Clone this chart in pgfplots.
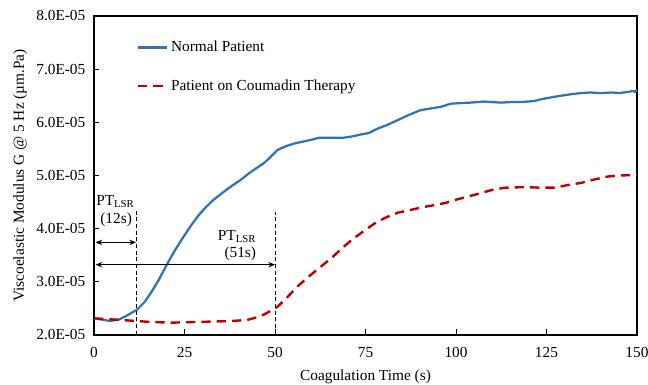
\documentclass[border=0pt]{standalone}
\usepackage{pgfplots}
\pgfplotsset{compat=1.18}
\usepackage{fontspec}
\setmainfont{Liberation Serif}
\usetikzlibrary{arrows.meta,calc}
\definecolor{bluec}{RGB}{46,117,182}
\definecolor{redc}{RGB}{192,0,0}
\begin{document}
\begin{tikzpicture}
\begin{axis}[
  scale only axis,
  width=407pt, height=239pt,
  xmin=0, xmax=150, ymin=2e-5, ymax=8e-5,
  scaled y ticks=false,
  xtick={0,25,50,75,100,125,150},
  ytick={2e-5,3e-5,4e-5,5e-5,6e-5,7e-5,8e-5},
  yticklabels={2.0E-05,3.0E-05,4.0E-05,5.0E-05,6.0E-05,7.0E-05,8.0E-05},
  /pgf/number format/assume math mode=true,
  tick pos=left, tick align=inside,
  major tick length=4pt,
  axis line style={line width=1pt},
  every tick/.style={black, line width=0.6pt},
  tick label style={font=\fontsize{11.5}{13}\selectfont},
  xticklabel style={yshift=-6pt},
  yticklabel style={xshift=-3pt},
  label style={font=\fontsize{11.5}{13}\selectfont},
  xlabel={Coagulation Time (s)},
  ylabel={Viscoelastic Modulus G @ 5 Hz (µm.Pa)},
  xlabel style={yshift=-2pt},
  ylabel style={yshift=0pt},
  legend style={draw=none, fill=none, at={(0.078,0.93)}, anchor=north west,
    font=\fontsize{11.5}{13}\selectfont, row sep=15.5pt, inner sep=0pt,
    legend cell align=left},
  legend image code/.code={\draw[#1] (0pt,0pt) -- (22pt,0pt);},
]
\addplot[bluec, line width=1.7pt, line join=round] coordinates {
(0,2.31e-5)(2,2.29e-5)(4.4,2.26e-5)(7,2.29e-5)(9,2.36e-5)(11.8,2.47e-5)(14,2.62e-5)(16,2.82e-5)(18,3.05e-5)(20.1,3.32e-5)(22,3.55e-5)(24,3.77e-5)(26.6,4.04e-5)(29,4.26e-5)(31,4.41e-5)(33,4.54e-5)(36,4.70e-5)(38,4.80e-5)(40.4,4.91e-5)(43,5.05e-5)(46.9,5.23e-5)(48.5,5.33e-5)(50.7,5.48e-5)(53,5.55e-5)(55.3,5.60e-5)(58,5.64e-5)(60,5.67e-5)(62.2,5.71e-5)(65,5.71e-5)(69,5.71e-5)(71,5.73e-5)(73.7,5.77e-5)(76,5.80e-5)(78.3,5.88e-5)(81,5.95e-5)(84.8,6.07e-5)(87,6.14e-5)(90.3,6.23e-5)(93,6.26e-5)(95.8,6.29e-5)(98.6,6.35e-5)(101,6.36e-5)(104,6.37e-5)(107.8,6.39e-5)(110,6.38e-5)(112.4,6.37e-5)(115,6.38e-5)(118,6.38e-5)(121.6,6.40e-5)(124,6.44e-5)(127.2,6.48e-5)(130,6.51e-5)(132,6.53e-5)(134.6,6.55e-5)(137,6.56e-5)(140.1,6.55e-5)(143,6.56e-5)(145,6.55e-5)(147.5,6.57e-5)(148.9,6.59e-5)(149.5,6.57e-5)(150,6.62e-5)
};
\addlegendentry{Normal Patient}
\addplot[redc, line width=1.8pt, dash pattern=on 7pt off 4.5pt] coordinates {
(0,2.31e-5)(5,2.29e-5)(11.8,2.26e-5)(16,2.24e-5)(21.9,2.23e-5)(27,2.24e-5)(33,2.25e-5)(38,2.26e-5)(42.3,2.28e-5)(45,2.33e-5)(46.9,2.38e-5)(49,2.46e-5)(50.7,2.53e-5)(53,2.68e-5)(56.2,2.91e-5)(59,3.08e-5)(62.6,3.28e-5)(66,3.47e-5)(69,3.66e-5)(72,3.83e-5)(75.5,4.00e-5)(78,4.12e-5)(81,4.22e-5)(84,4.30e-5)(87.5,4.35e-5)(90.6,4.40e-5)(93.9,4.44e-5)(97,4.48e-5)(100.4,4.55e-5)(103.2,4.60e-5)(107,4.67e-5)(110.6,4.74e-5)(114,4.77e-5)(118.9,4.78e-5)(123,4.77e-5)(127.2,4.77e-5)(131,4.82e-5)(134.6,4.86e-5)(138,4.92e-5)(142,4.98e-5)(146,5.00e-5)(150,5.01e-5)
};
\addlegendentry{Patient on Coumadin Therapy}
\draw[black, line width=0.6pt, dash pattern=on 3pt off 2pt] (axis cs:11.8,2e-5) -- (axis cs:11.8,4.35e-5);
\draw[black, line width=0.6pt, dash pattern=on 3pt off 2pt] (axis cs:50.2,2e-5) -- (axis cs:50.2,4.32e-5);
\draw[black, line width=0.7pt, {Stealth[length=5pt,width=4pt]}-{Stealth[length=5pt,width=4pt]}] (axis cs:0.4,3.74e-5) -- (axis cs:11.6,3.74e-5);
\draw[black, line width=0.7pt, {Stealth[length=5pt,width=4pt]}-{Stealth[length=5pt,width=4pt]}] (axis cs:0.4,3.32e-5) -- (axis cs:50,3.32e-5);
\node[font=\fontsize{11.5}{13}\selectfont, inner sep=0pt] at (axis cs:5.9,4.51e-5) {PT\textsubscript{LSR}};
\node[font=\fontsize{11.5}{13}\selectfont, inner sep=0pt] at (axis cs:6.1,4.16e-5) {(12s)};
\node[font=\fontsize{11.5}{13}\selectfont, inner sep=0pt] at (axis cs:39.5,3.85e-5) {PT\textsubscript{LSR}};
\node[font=\fontsize{11.5}{13}\selectfont, inner sep=0pt] at (axis cs:40.4,3.53e-5) {(51s)};
\coordinate (sw) at (rel axis cs:0,0);
\coordinate (ne) at (rel axis cs:1,1);
\end{axis}
\pgfresetboundingbox
\path[use as bounding box] ($(sw)+(-70.5pt,-37.5pt)$) rectangle ($(ne)+(8.25pt,12pt)$);
\end{tikzpicture}
\end{document}
